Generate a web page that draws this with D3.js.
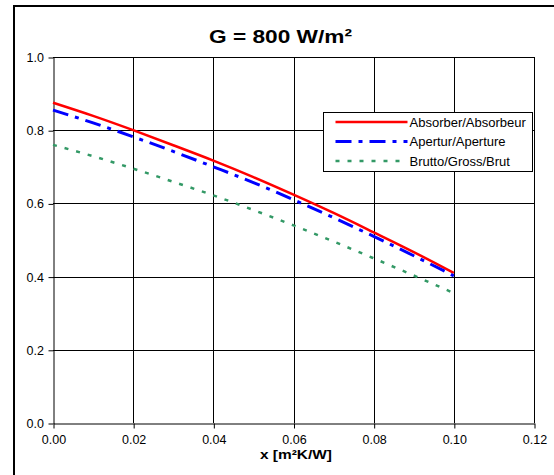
<!DOCTYPE html>
<html>
<head>
<meta charset="utf-8">
<script src="https://cdn.jsdelivr.net/npm/d3@7"></script>
<style>
  body { margin: 0; background: #fff; overflow: hidden; }
  svg { display: block; font-family: "Liberation Sans", Arial, sans-serif; }
</style>
</head>
<body>
<div id="chart"></div>
<script>
// data
const xValues = [0, 0.01, 0.02, 0.03, 0.04, 0.05, 0.06, 0.07, 0.08, 0.09, 0.10];
const absorber = [0.875, 0.839, 0.800, 0.759, 0.717, 0.672, 0.624, 0.574, 0.521, 0.467, 0.410];
const apertur = [0.855, 0.820, 0.782, 0.742, 0.700, 0.657, 0.610, 0.561, 0.510, 0.457, 0.402];
const brutto = [0.760, 0.729, 0.695, 0.659, 0.622, 0.582, 0.540, 0.496, 0.450, 0.403, 0.355];
const seriesNames = ["Absorber/Absorbeur", "Apertur/Aperture", "Brutto/Gross/Brut"];
const xTicks = [0, 0.02, 0.04, 0.06, 0.08, 0.10, 0.12];
const yTicks = [0, 0.2, 0.4, 0.6, 0.8, 1.0];

const W = 554, H = 475;
const margin = { top: 57, left: 53 },
  width = 534 - margin.left,
  height = 423 - margin.top;

const svg = d3.select("#chart")
  .append("svg")
  .attr("width", W)
  .attr("height", H);

// outer chart border: only the top and left edges are inside the picture
svg.append("path")
  .attr("d", `M14,${H} V6 H${W}`)
  .attr("fill", "none")
  .attr("stroke", "#000")
  .attr("stroke-width", 2);

svg.append("text")
  .attr("x", 280.5).attr("y", 43)
  .attr("text-anchor", "middle")
  .attr("textLength", 143)
  .attr("lengthAdjust", "spacingAndGlyphs")
  .style("font-weight", "bold")
  .style("font-size", "19px")
  .text("G = 800 W/m²");

const g = svg.append("g")
  .attr("transform", `translate(${margin.left},${margin.top})`);

const x = d3.scaleLinear().domain([0, 0.12]).range([0, width]);
const y = d3.scaleLinear().domain([0, 1]).range([height, 0]);

// gridlines
g.append("g")
  .selectAll("line")
  .data(xTicks.slice(1))
  .join("line")
  .attr("x1", d => Math.round(x(d)) + 0.5).attr("x2", d => Math.round(x(d)) + 0.5)
  .attr("y1", 0).attr("y2", height)
  .attr("stroke", "#000");
g.append("g")
  .selectAll("line")
  .data(yTicks.slice(1))
  .join("line")
  .attr("y1", d => Math.round(y(d)) + 0.5).attr("y2", d => Math.round(y(d)) + 0.5)
  .attr("x1", 0).attr("x2", width)
  .attr("stroke", "#000");

// axes
const xAxis = g.append("g")
  .attr("transform", `translate(0.5,${height + 0.5})`)
  .call(d3.axisBottom(x).tickValues(xTicks).tickFormat(d3.format(".2f")).tickSize(5).tickSizeOuter(0));
const yAxis = g.append("g")
  .attr("transform", "translate(0.5,0.5)")
  .call(d3.axisLeft(y).tickValues(yTicks).tickFormat(d3.format(".1f")).tickSize(5).tickSizeOuter(0));

[xAxis, yAxis].forEach(a => {
  a.select(".domain").attr("stroke", "#000");
  a.selectAll(".tick line").attr("stroke", "#000");
  a.selectAll(".tick text")
    .attr("fill", "#000")
    .style("font-size", "12.5px")
    .style("font-family", "Liberation Sans, Arial, sans-serif");
});
xAxis.selectAll(".tick text").attr("dy", "0.71em").attr("y", 12);
yAxis.selectAll(".tick text").attr("x", -9.5);

svg.append("text")
  .attr("x", 296).attr("y", 459)
  .attr("text-anchor", "middle")
  .attr("textLength", 72)
  .attr("lengthAdjust", "spacingAndGlyphs")
  .style("font-weight", "bold")
  .style("font-size", "13px")
  .text("x [m²K/W]");

// lines
const styles = [
  { color: "#FF0000", dash: null, w: 2.5 },
  { color: "#0000FF", dash: "16,7,4,7", w: 3 },
  { color: "#339966", dash: "4,8", w: 2.5 }
];
const allSeries = [absorber, apertur, brutto];

const line = d3.line()
  .x((d, i) => x(xValues[i]))
  .y(d => y(d))
  .curve(d3.curveMonotoneX);

allSeries.forEach((s, k) => {
  g.append("path")
    .datum(s)
    .attr("fill", "none")
    .attr("stroke", styles[k].color)
    .attr("stroke-width", styles[k].w)
    .attr("stroke-dasharray", styles[k].dash)
    .attr("d", line);
});

// legend
const legend = svg.append("g").attr("transform", "translate(323.5,112.5)");
legend.append("rect")
  .attr("width", 209).attr("height", 59)
  .attr("fill", "#fff")
  .attr("stroke", "#000");

seriesNames.forEach((name, k) => {
  const ly = 9.5 + k * 19.5;
  legend.append("line")
    .attr("x1", 12).attr("x2", 84)
    .attr("y1", ly).attr("y2", ly)
    .attr("stroke", styles[k].color)
    .attr("stroke-width", styles[k].w)
    .attr("stroke-dasharray", styles[k].dash);
  legend.append("text")
    .attr("x", 86).attr("y", ly)
    .attr("dy", "0.35em")
    .style("font-size", "13px")
    .text(name);
});
</script>
</body>
</html>
